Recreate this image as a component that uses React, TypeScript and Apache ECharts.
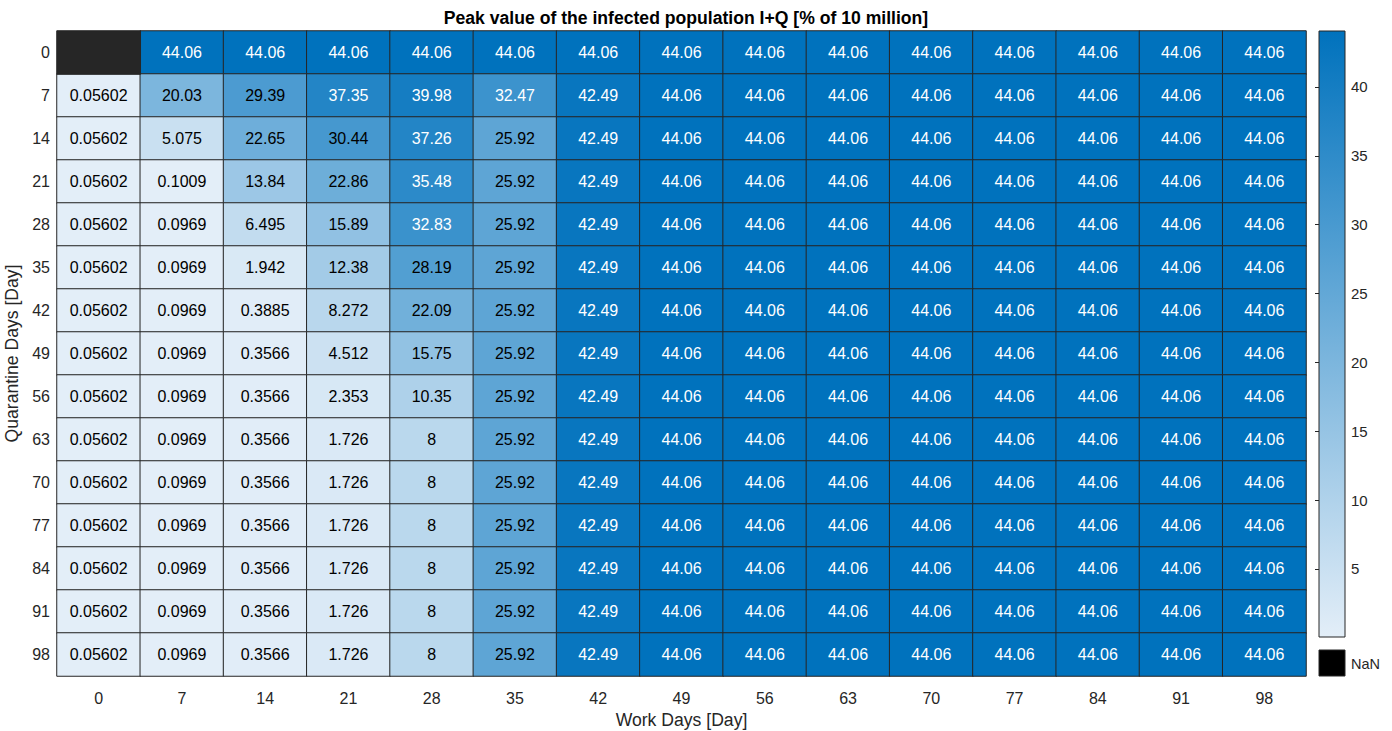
import React, { useEffect, useRef } from "react";
import * as echarts from "echarts";

const workDays = ["0", "7", "14", "21", "28", "35", "42", "49", "56", "63", "70", "77", "84", "91", "98"];
const quarantineDays = ["0", "7", "14", "21", "28", "35", "42", "49", "56", "63", "70", "77", "84", "91", "98"];

// rows: quarantine days (top to bottom), columns: work days; null = NaN
const row0 = [null, 44.06, 44.06, 44.06, 44.06, 44.06, 44.06, 44.06, 44.06, 44.06, 44.06, 44.06, 44.06, 44.06, 44.06];
const row7 = [0.05602, 20.03, 29.39, 37.35, 39.98, 32.47, 42.49, 44.06, 44.06, 44.06, 44.06, 44.06, 44.06, 44.06, 44.06];
const row14 = [0.05602, 5.075, 22.65, 30.44, 37.26, 25.92, 42.49, 44.06, 44.06, 44.06, 44.06, 44.06, 44.06, 44.06, 44.06];
const row21 = [0.05602, 0.1009, 13.84, 22.86, 35.48, 25.92, 42.49, 44.06, 44.06, 44.06, 44.06, 44.06, 44.06, 44.06, 44.06];
const row28 = [0.05602, 0.0969, 6.495, 15.89, 32.83, 25.92, 42.49, 44.06, 44.06, 44.06, 44.06, 44.06, 44.06, 44.06, 44.06];
const row35 = [0.05602, 0.0969, 1.942, 12.38, 28.19, 25.92, 42.49, 44.06, 44.06, 44.06, 44.06, 44.06, 44.06, 44.06, 44.06];
const row42 = [0.05602, 0.0969, 0.3885, 8.272, 22.09, 25.92, 42.49, 44.06, 44.06, 44.06, 44.06, 44.06, 44.06, 44.06, 44.06];
const row49 = [0.05602, 0.0969, 0.3566, 4.512, 15.75, 25.92, 42.49, 44.06, 44.06, 44.06, 44.06, 44.06, 44.06, 44.06, 44.06];
const row56 = [0.05602, 0.0969, 0.3566, 2.353, 10.35, 25.92, 42.49, 44.06, 44.06, 44.06, 44.06, 44.06, 44.06, 44.06, 44.06];
const row63 = [0.05602, 0.0969, 0.3566, 1.726, 8, 25.92, 42.49, 44.06, 44.06, 44.06, 44.06, 44.06, 44.06, 44.06, 44.06];
const row70 = [0.05602, 0.0969, 0.3566, 1.726, 8, 25.92, 42.49, 44.06, 44.06, 44.06, 44.06, 44.06, 44.06, 44.06, 44.06];
const row77 = [0.05602, 0.0969, 0.3566, 1.726, 8, 25.92, 42.49, 44.06, 44.06, 44.06, 44.06, 44.06, 44.06, 44.06, 44.06];
const row84 = [0.05602, 0.0969, 0.3566, 1.726, 8, 25.92, 42.49, 44.06, 44.06, 44.06, 44.06, 44.06, 44.06, 44.06, 44.06];
const row91 = [0.05602, 0.0969, 0.3566, 1.726, 8, 25.92, 42.49, 44.06, 44.06, 44.06, 44.06, 44.06, 44.06, 44.06, 44.06];
const row98 = [0.05602, 0.0969, 0.3566, 1.726, 8, 25.92, 42.49, 44.06, 44.06, 44.06, 44.06, 44.06, 44.06, 44.06, 44.06];

const rows = [row0, row7, row14, row21, row28, row35, row42, row49, row56, row63, row70, row77, row84, row91, row98];

const colorTicks = [5, 10, 15, 20, 25, 30, 35, 40];
const colorMin = 0.05602;
const colorMax = 44.06;

const LIGHT = "#E3EEF8";
const DARK = "#0072BD";
const FONT = "'Liberation Sans', Arial, Helvetica, sans-serif";
const INK = "#262626";

function fmt(v: number): string {
  return String(parseFloat(v.toPrecision(4)));
}

export default function App() {
  const ref = useRef<HTMLDivElement>(null);

  useEffect(() => {
    if (!ref.current) return;
    const chart = echarts.init(ref.current, null, { renderer: "svg" });

    const data: any[] = [];
    const nanData: any[] = [];
    rows.forEach((row, r) => {
      row.forEach((v, c) => {
        if (v === null) {
          nanData.push({ value: [c, r, 0] });
        } else {
          data.push({
            value: [c, r, v],
            label: { color: v > 31 ? "#FFFFFF" : "#000000" },
          });
        }
      });
    });

    chart.setOption({
      animation: false,
      backgroundColor: "#FFFFFF",
      title: {
        text: "Peak value of the infected population I+Q [% of 10 million]",
        left: 681,
        top: 4,
        textAlign: "center",
        textStyle: { fontFamily: FONT, fontSize: 17.6, fontWeight: "bold", color: "#000000" },
      },
      grid: [
        { left: 57, right: 86, top: 31, bottom: 55, containLabel: false, outerBoundsMode: "none" },
        {
          left: 1319,
          width: 26,
          top: 31,
          height: 606,
          show: true,
          outerBoundsMode: "none",
          borderColor: INK,
          borderWidth: 1,
          backgroundColor: new echarts.graphic.LinearGradient(0, 0, 0, 1, [
            { offset: 0, color: DARK },
            { offset: 1, color: LIGHT },
          ]),
        },
      ],
      xAxis: [
        {
          type: "category",
          data: workDays,
          gridIndex: 0,
          name: "Work Days [Day]",
          nameLocation: "middle",
          nameGap: 33,
          nameTextStyle: { fontFamily: FONT, fontSize: 17.6, color: INK },
          axisLine: { show: false },
          axisTick: { show: false },
          axisLabel: { fontFamily: FONT, fontSize: 16, color: INK, margin: 14 },
          splitArea: { show: false },
        },
        { type: "value", gridIndex: 1, show: false, min: 0, max: 1 },
      ],
      yAxis: [
        {
          type: "category",
          data: quarantineDays,
          gridIndex: 0,
          inverse: true,
          name: "Quarantine Days [Day]",
          nameLocation: "middle",
          nameGap: 27,
          nameTextStyle: { fontFamily: FONT, fontSize: 17.6, color: INK },
          axisLine: { show: false },
          axisTick: { show: false },
          axisLabel: { fontFamily: FONT, fontSize: 16, color: INK, margin: 7 },
          splitArea: { show: false },
        },
        {
          type: "value",
          gridIndex: 1,
          position: "right",
          min: colorMin,
          max: colorMax,
          axisLine: { show: false },
          splitLine: { show: false },
          axisTick: {
            show: true,
            inside: true,
            length: 4,
            lineStyle: { color: INK },
            customValues: colorTicks,
          },
          axisLabel: {
            fontFamily: FONT,
            fontSize: 15,
            color: INK,
            margin: 6,
            customValues: colorTicks,
          },
        },
      ],
      visualMap: [
        {
          type: "continuous",
          show: false,
          seriesIndex: 0,
          dimension: 2,
          min: colorMin,
          max: colorMax,
          inRange: { color: [LIGHT, DARK] },
        },
        {
          type: "continuous",
          show: false,
          seriesIndex: 1,
          dimension: 2,
          min: 0,
          max: 1,
          inRange: { color: [INK, INK] },
          outOfRange: { color: [INK, INK] },
        },
      ],
      graphic: [
        {
          type: "rect",
          shape: { x: 1319, y: 650, width: 26, height: 26 },
          style: { fill: "#000000", stroke: INK, lineWidth: 1 },
        },
        {
          type: "text",
          x: 1351,
          y: 664,
          style: {
            text: "NaN",
            fontFamily: FONT,
            fontSize: 14.5,
            fill: INK,
            verticalAlign: "middle",
          },
        },
      ],
      series: [
        {
          type: "heatmap",
          xAxisIndex: 0,
          yAxisIndex: 0,
          data,
          itemStyle: { borderColor: INK, borderWidth: 1 },
          label: {
            show: true,
            fontFamily: FONT,
            fontSize: 16,
            formatter: (p: any) => fmt(p.value[2]),
          },
          emphasis: { disabled: true },
        },
        {
          type: "heatmap",
          name: "NaN",
          xAxisIndex: 0,
          yAxisIndex: 0,
          data: nanData,
          itemStyle: { borderColor: INK, borderWidth: 1 },
          label: { show: false },
          emphasis: { disabled: true },
        },
      ],
    });

    return () => chart.dispose();
  }, []);

  return (
    <div
      ref={ref}
      style={{ position: "fixed", left: 0, top: 0, width: 1392, height: 731 }}
    />
  );
}
